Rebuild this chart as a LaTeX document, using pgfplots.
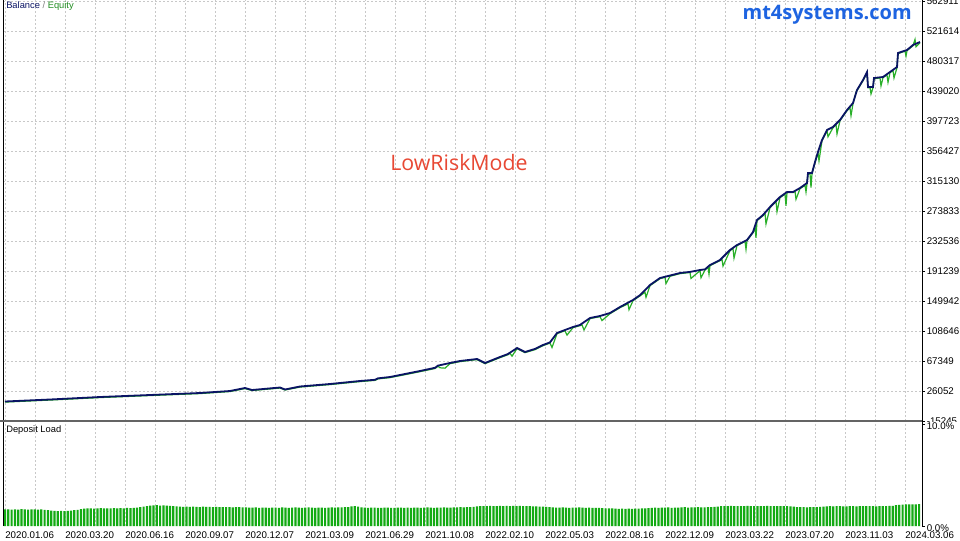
\documentclass[border=0pt]{standalone}
\usepackage{pgfplots}
\pgfplotsset{compat=1.18}
\usepackage{pgfplotstable}
\usepackage{fontspec}
\setmainfont{Liberation Sans}
\newfontfamily\osans{Open Sans}
\newlength\px
\setlength\px{0.75pt}
\definecolor{bal}{RGB}{10,20,100}
\definecolor{eqc}{RGB}{40,175,40}
\definecolor{barc}{RGB}{20,170,20}
\definecolor{grd}{RGB}{200,200,200}
\definecolor{redt}{RGB}{232,72,52}
\definecolor{bluet}{RGB}{30,100,225}
\definecolor{sepc}{RGB}{100,100,100}

\pgfplotstableread{
x y
5 11598
50 14351
100 17793
150 20546
200 23299
230 26052
245 30182
252 27429
280 30870
285 28117
300 32247
330 35688
360 39818
375 41500
378 43500
390 45324
400 48077
420 53584
435 58000
438 61000
450 64596
460 67349
477 70102
485 64596
500 72855
508 77000
517 85245
525 79738
535 84000
543 89374
550 93000
557 105893
573 114153
580 117000
590 126542
600 129295
610 133425
620 141684
633 151320
640 158000
650 171969
660 181605
670 185000
680 188487
690 190000
700 192617
705 193500
710 199500
720 206383
730 220148
737 227031
747 233914
753 244927
757 261446
763 268328
770 279341
780 293107
787 299990
793 299990
800 305496
807 312379
808 326144
812 326144
815 341287
818 355052
822 371571
827 385337
833 389467
840 399103
847 412868
853 422504
857 440400
863 454165
867 465178
868 444529
873 444529
874 456919
883 458295
890 465178
897 472061
898 491333
907 495462
913 502345
920 506475
}\balance

\pgfplotstableread{
x y
5 10800
50 13600
100 17000
150 19800
200 22500
230 25300
245 29400
252 26700
280 30100
285 27400
300 31500
330 34900
360 39000
375 40700
378 42700
390 44500
400 47200
420 52700
435 57000
438 60200
440 58000
445 57500
450 63700
460 66500
477 69300
485 63700
500 72000
508 76000
510 78000
512 74000
517 84400
525 78900
535 83000
543 88500
550 92000
552 86000
557 105000
565 109000
567 103000
573 113300
580 116000
582 117000
584 110000
590 125700
600 128400
602 123000
610 132500
620 140800
628 146000
629 138000
633 150400
640 157000
645 162000
646 155000
650 171100
660 180700
665 182500
666 174000
670 184000
680 187600
690 189200
691 181000
700 191700
701 182000
705 192500
708 197000
709 187000
710 198600
720 205500
722 207000
723 198000
730 219300
733 222000
734 209000
737 226100
745 232000
746 221000
747 233000
753 244000
755 250000
756 237000
757 260500
763 267400
765 271000
766 256000
770 278400
776 287000
777 273000
780 292200
785 297000
786 281000
787 299100
793 299100
795 301000
796 290000
800 304600
805 309000
806 300000
807 311500
808 325200
810 325200
811 306000
812 325200
815 340400
818 354100
819 343000
822 370600
827 384400
828 376000
833 388500
836 393000
837 380000
840 398200
847 411900
850 416000
851 405000
853 421600
856 437000
857 439500
863 453200
867 464300
868 443600
870 443600
871 435000
873 443600
874 456000
880 457000
881 446000
883 457400
887 461000
888 451000
890 464300
893 467000
894 457000
897 471100
898 490400
905 494000
906 487000
907 494500
913 501400
915 510000
916 500000
920 505500
}\equity

\pgfplotstableread[row sep=\\]{
load\\
1.62\\1.64\\1.60\\1.63\\1.61\\1.65\\1.62\\1.60\\1.63\\1.64\\1.61\\1.62\\1.58\\1.55\\
1.50\\1.48\\1.47\\1.49\\1.46\\1.48\\
1.52\\1.55\\1.58\\
1.66\\1.70\\1.72\\1.74\\1.71\\1.73\\1.75\\1.72\\1.74\\1.73\\1.76\\1.74\\1.75\\1.73\\1.77\\1.76\\1.78\\1.80\\
1.85\\1.90\\1.94\\
2.00\\2.02\\2.04\\2.01\\2.03\\2.00\\1.97\\1.94\\
1.92\\1.90\\1.88\\1.89\\1.87\\1.90\\1.88\\1.86\\1.89\\1.87\\1.88\\1.85\\1.87\\1.86\\1.84\\1.86\\1.85\\1.83\\1.85\\1.84\\1.82\\1.83\\1.81\\
1.80\\1.82\\1.79\\1.81\\1.80\\1.78\\1.80\\1.81\\1.79\\1.82\\1.80\\1.78\\1.81\\1.83\\1.80\\1.79\\1.81\\1.82\\1.80\\1.78\\1.80\\1.81\\1.79\\1.80\\1.82\\1.81\\1.83\\1.82\\1.84\\1.86\\
1.92\\1.94\\1.90\\
1.82\\1.80\\1.79\\1.81\\1.80\\1.78\\1.79\\1.81\\1.80\\1.79\\1.78\\1.80\\1.81\\1.79\\1.80\\1.78\\1.80\\1.81\\1.79\\1.80\\1.82\\1.80\\1.79\\1.81\\1.80\\1.82\\1.81\\1.80\\1.82\\1.83\\1.84\\1.83\\1.85\\1.86\\1.88\\
1.92\\1.94\\1.96\\1.95\\1.97\\1.94\\1.96\\1.98\\1.95\\1.97\\1.96\\1.98\\1.95\\1.97\\1.96\\1.94\\1.95\\1.93\\1.92\\1.90\\1.89\\1.87\\1.85\\
1.82\\1.81\\1.80\\1.82\\1.80\\1.79\\1.81\\1.80\\1.82\\1.80\\1.78\\1.80\\1.79\\1.77\\1.78\\1.76\\1.74\\1.73\\
1.72\\1.70\\1.69\\1.71\\1.68\\1.70\\1.69\\1.71\\1.70\\1.72\\1.74\\1.76\\
1.78\\1.80\\1.79\\1.81\\1.80\\1.82\\1.79\\1.81\\1.80\\1.82\\1.84\\1.81\\1.83\\1.82\\1.84\\1.83\\1.82\\1.85\\1.86\\1.88\\1.90\\
1.94\\1.96\\1.95\\1.97\\1.96\\1.94\\1.96\\1.95\\1.97\\1.96\\1.95\\1.94\\1.96\\1.95\\1.97\\1.96\\1.94\\1.95\\1.96\\1.94\\1.95\\1.93\\1.90\\
1.86\\1.84\\1.85\\1.83\\1.84\\1.86\\1.85\\1.88\\1.90\\
1.92\\1.94\\1.93\\1.95\\1.94\\1.92\\1.93\\1.95\\1.94\\1.93\\1.95\\1.94\\1.96\\1.94\\1.95\\1.93\\1.94\\1.96\\1.95\\1.97\\1.98\\
2.05\\2.08\\2.10\\2.12\\2.11\\2.13\\2.12\\2.14\\
}\loadtab

\pgfplotsset{
  mtstyle/.style={
    scale only axis,
    width=919\px,
    xmin=3, xmax=922,
    axis line style={draw=none},
    grid=major,
    major grid style={draw=grd, dash pattern=on 2\px off 2\px, line width=0.75\px},
    minor grid style={draw=grd, dash pattern=on 2\px off 2\px, line width=0.75\px},
    tick label style={font=\fontsize{7.3}{8.5}\selectfont},
    /pgf/number format/assume math mode=true,
    ytick pos=right,
    yticklabel pos=right,
    tick align=outside,
    major tick length=3\px,
    ytick style={draw=black, line width=0.75\px},
    xtick style={draw=none},
    yticklabel style={anchor=west, inner xsep=1.5\px},
    clip=true,
  }
}

\begin{document}
\begin{tikzpicture}[x=1\px,y=1\px]
\useasboundingbox (0,0) rectangle (960,540);
\fill[white] (0,0) rectangle (960,540);

\begin{axis}[mtstyle,
  at={(3\px,119\px)}, anchor=south west,
  height=421\px,
  ymin=-15245, ymax=564291,
  xtick={5,35,...,905}, xticklabels={},
  ytick={-15245,26052,67349,108646,149942,191239,232536,273833,315130,356427,397723,439020,480317,521614,562911},
  yticklabels={-15245,26052,67349,108646,149942,191239,232536,273833,315130,356427,397723,439020,480317,521614,562911},
]
\addplot[eqc, line width=1.2\px] table[x=x,y=y] {\equity};
\addplot[bal, line width=1.8\px] table[x=x,y=y] {\balance};
\end{axis}

% cover lower part of the bottom label of the upper scale
\fill[white] (923,0) rectangle (960,118);

\begin{axis}[mtstyle,
  at={(3\px,14\px)}, anchor=south west,
  height=105\px,
  ymin=0, ymax=10.3,
  ytick={0,10}, yticklabels={0.0\%,10.0\%},
  yticklabel style={yshift=-2\px},
  xtick={5,65,...,905},
  minor xtick={35,95,...,875},
  grid=both,
  ymajorgrids=false,
  xticklabels={2020.01.06,2020.03.20,2020.06.16,2020.09.07,2020.12.07,2021.03.09,2021.06.29,2021.10.08,2022.02.10,2022.05.03,2022.08.16,2022.12.09,2023.03.22,2023.07.20,2023.11.03,2024.03.06},
  xticklabel style={anchor=north west, inner xsep=0pt, inner ysep=2\px},
  ybar, bar width=2.2, bar shift=0pt,
]
\addplot[fill=barc, draw=none] table[x expr={5+3.3*\coordindex}, y=load] {\loadtab};
\end{axis}

% frame lines
\draw[black, line width=1\px] (3,14) -- (3,540);
\draw[black, line width=1\px] (922,14) -- (922,540);
\draw[sepc, line width=2\px] (0,119) -- (922,119);

% texts
\node[anchor=west, inner sep=0pt, font=\fontsize{7}{8}\selectfont] at (6,534) {\textcolor{bal}{Balance} \textcolor{gray}{/} \textcolor{eqc!80!black}{Equity}};
\node[anchor=west, inner sep=0pt, font=\fontsize{7}{8}\selectfont] at (6,110) {Deposit Load};
\node[anchor=east, inner sep=0pt, text=bluet, font=\osans\bfseries\fontsize{15}{18}\selectfont] at (912,525) {mt4systems.com};
\node[inner sep=0pt, text=redt, font=\osans\fontsize{16}{19}\selectfont] at (459,377) {LowRiskMode};
\end{tikzpicture}
\end{document}
